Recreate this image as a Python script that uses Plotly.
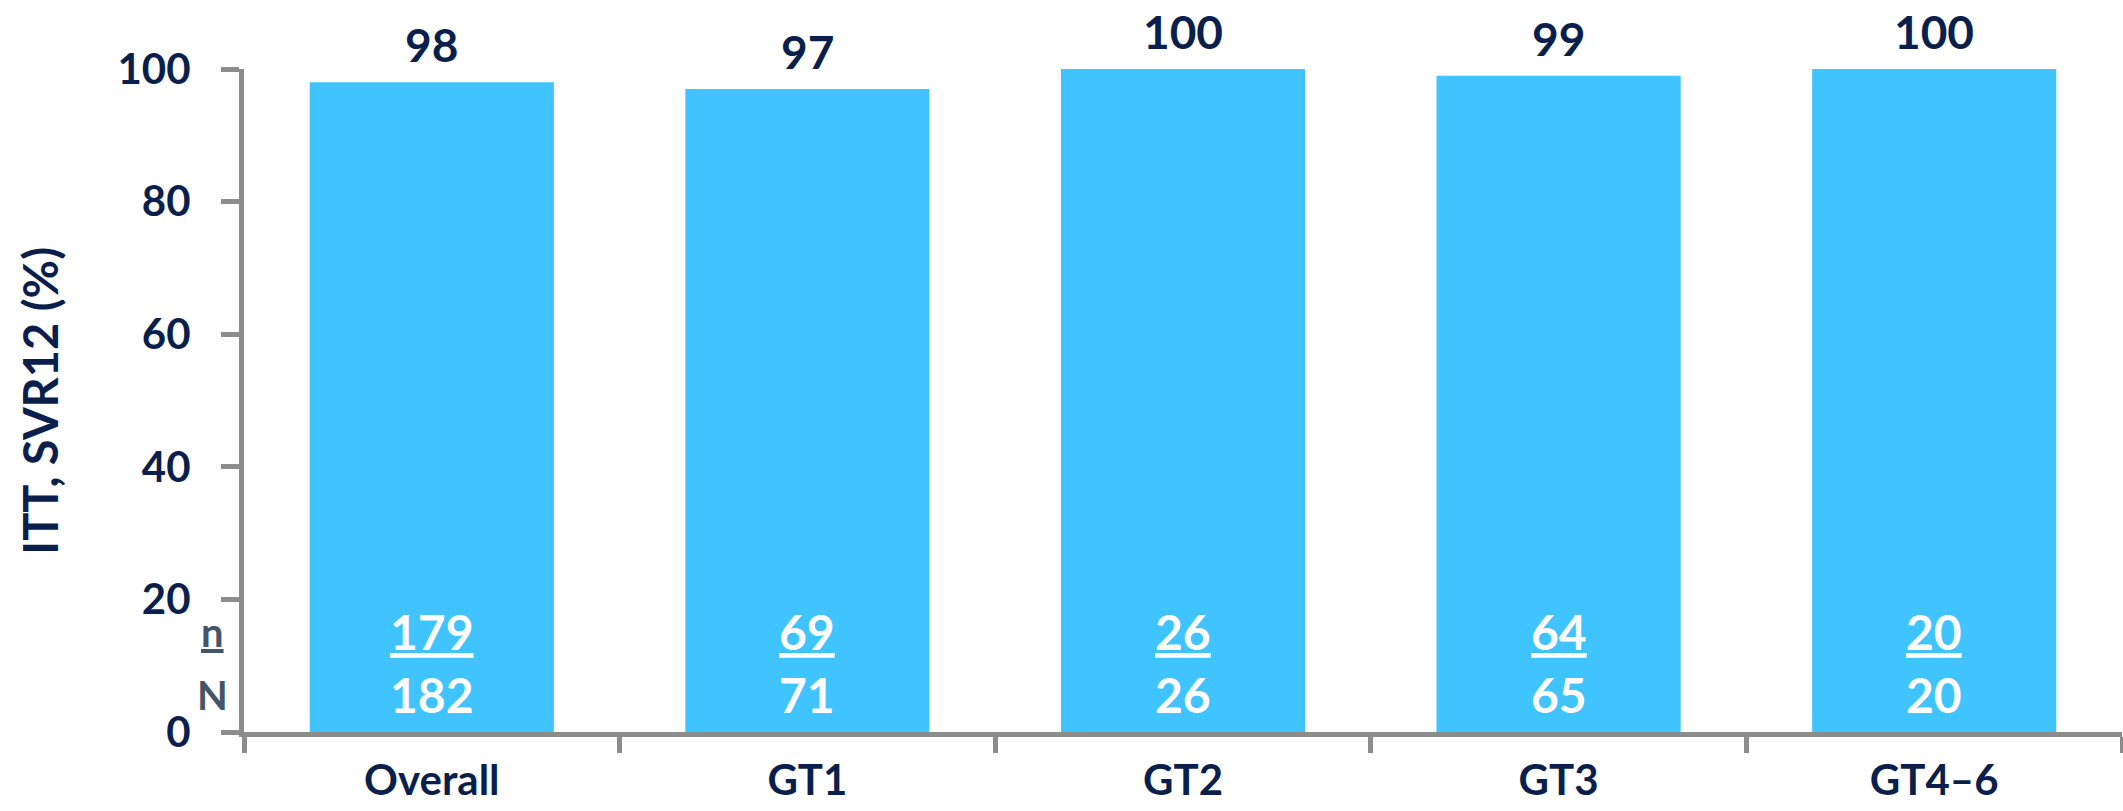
import plotly.graph_objects as go

# SVR12 rates by genotype group (ITT population)
categories = ["Overall", "GT1", "GT2", "GT3", "GT4\u20136"]
svr12_pct = [98, 97, 100, 99, 100]
responders_n = [179, 69, 26, 64, 20]
patients_N = [182, 71, 26, 65, 20]
y_ticks = [0, 20, 40, 60, 80, 100]

NAVY = "#0b1f4d"
BAR = "#40c4ff"
AXIS = "#8c8c8c"
SLATE = "#44546a"
FONT = "Lato"

fig = go.Figure()
fig.add_trace(go.Bar(
    x=categories,
    y=svr12_pct,
    marker=dict(color=BAR, line=dict(width=0)),
    width=0.65,
    hoverinfo="skip",
))

annotations = []
for cat, pct, n, N in zip(categories, svr12_pct, responders_n, patients_N):
    # percentage above the bar
    annotations.append(dict(
        x=cat, y=pct, xref="x", yref="y", text=f"<b>{pct}</b>",
        showarrow=False, yanchor="bottom", yshift=8,
        font=dict(family=FONT, size=46, color=NAVY),
    ))
    # n / N fraction inside the bar
    annotations.append(dict(
        x=cat, y=15.1, xref="x", yref="y", text=f"<b><u>{n}</u></b>",
        showarrow=False, yanchor="middle",
        font=dict(family=FONT, size=48, color="white"),
    ))
    annotations.append(dict(
        x=cat, y=5.6, xref="x", yref="y", text=f"<b>{N}</b>",
        showarrow=False, yanchor="middle",
        font=dict(family=FONT, size=48, color="white"),
    ))

# n / N key beside the y axis
annotations.append(dict(
    x=-0.017, y=15.1, xref="paper", yref="y", text="<b><u>n</u></b>",
    showarrow=False, xanchor="center", yanchor="middle",
    font=dict(family=FONT, size=40, color=SLATE),
))
annotations.append(dict(
    x=-0.017, y=5.6, xref="paper", yref="y", text="<b>N</b>",
    showarrow=False, xanchor="center", yanchor="middle",
    font=dict(family=FONT, size=40, color=SLATE),
))
# y-axis title
annotations.append(dict(
    x=-0.109, y=0.5, xref="paper", yref="paper", text="<b>ITT, SVR12 (%)</b>",
    showarrow=False, xanchor="center", yanchor="middle", textangle=-90,
    font=dict(family=FONT, size=47, color=NAVY),
))

fig.update_layout(
    width=2123,
    height=811,
    margin=dict(l=244, r=1, t=69, b=79, autoexpand=False),
    paper_bgcolor="white",
    plot_bgcolor="white",
    showlegend=False,
    annotations=annotations,
    xaxis=dict(
        type="category",
        range=[-0.5, len(categories) - 0.5],
        tickson="boundaries",
        ticks="outside",
        ticklen=16,
        tickwidth=5,
        tickcolor=AXIS,
        showline=True,
        linecolor=AXIS,
        linewidth=5,
        showgrid=False,
        zeroline=False,
        ticklabelstandoff=8,
        tickfont=dict(family=FONT, size=42, color=NAVY, weight="bold"),
        fixedrange=True,
    ),
    yaxis=dict(
        range=[0, 100],
        tickvals=y_ticks,
        ticks="outside",
        ticklen=18,
        tickwidth=5,
        tickcolor=AXIS,
        showline=True,
        linecolor=AXIS,
        linewidth=5,
        showgrid=False,
        zeroline=False,
        ticklabelstandoff=22,
        tickfont=dict(family=FONT, size=42, color=NAVY, weight="bold"),
        fixedrange=True,
    ),
)

fig.write_html("out.html", config={"displayModeBar": False})
